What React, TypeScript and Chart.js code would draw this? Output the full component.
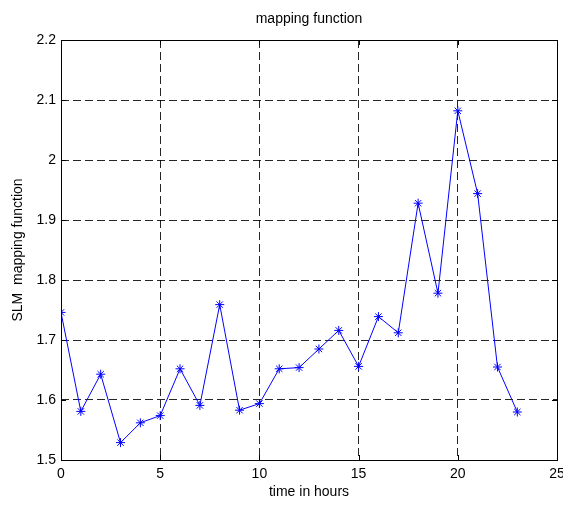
import React, { useEffect, useRef } from "react";
import { Chart, registerables } from "chart.js";

Chart.register(...registerables);

const hours = [0, 1, 2, 3, 4, 5, 6, 7, 8, 9, 10, 11, 12, 13, 14, 15, 16, 17, 18, 19, 20, 21, 22, 23];
const slm = [1.746, 1.581, 1.643, 1.529, 1.562, 1.574, 1.652, 1.591, 1.759, 1.583, 1.594, 1.652, 1.654, 1.685, 1.716, 1.656, 1.739, 1.712, 1.928, 1.778, 2.082, 1.944, 1.655, 1.58];
const chartTitle = "mapping function";
const xTitle = "time in hours";
const yTitle = "SLM  mapping function";

const FONT = "'Liberation Sans', Arial, sans-serif";
const FS = 14;

const boxPlugin = {
  id: "boxPlugin",
  afterDraw(chart: any) {
    const { ctx, chartArea: a, scales } = chart;
    ctx.save();
    ctx.strokeStyle = "#000";
    ctx.lineWidth = 1;
    ctx.beginPath();
    scales.x.ticks.forEach((t: any) => {
      const px = Math.round(scales.x.getPixelForValue(t.value)) + 0.5;
      ctx.moveTo(px, a.bottom);
      ctx.lineTo(px, a.bottom - 5);
      ctx.moveTo(px, a.top);
      ctx.lineTo(px, a.top + 5);
    });
    scales.y.ticks.forEach((t: any) => {
      const py = Math.round(scales.y.getPixelForValue(t.value)) + 0.5;
      ctx.moveTo(a.left, py);
      ctx.lineTo(a.left + 5, py);
      ctx.moveTo(a.right, py);
      ctx.lineTo(a.right - 5, py);
    });
    ctx.stroke();
    ctx.strokeRect(Math.round(a.left) + 0.5, Math.round(a.top) + 0.5, Math.round(a.right - a.left), Math.round(a.bottom - a.top));
    ctx.fillStyle = "#000";
    ctx.font = `${FS}px ${FONT}`;
    ctx.textAlign = "center";
    ctx.textBaseline = "middle";
    ctx.fillText(chartTitle, (a.left + a.right) / 2, 19);
    ctx.restore();
  },
};

export default function App() {
  const ref = useRef<HTMLCanvasElement>(null);
  useEffect(() => {
    if (!ref.current) return;
    const chart = new Chart(ref.current, {
      type: "line",
      data: {
        datasets: [
          {
            data: hours.map((h, i) => ({ x: h, y: slm[i] })),
            borderColor: "#0000ff",
            backgroundColor: "#0000ff",
            borderWidth: 1,
            pointStyle: "star",
            pointRadius: 4.5,
            pointBorderWidth: 1,
            pointBorderColor: "#0000ff",
            tension: 0,
            fill: false,
          },
        ],
      },
      options: {
        animation: false,
        responsive: false,
        maintainAspectRatio: false,
        layout: { padding: { top: 40, right: 6, left: 0, bottom: 0 } },
        plugins: { legend: { display: false }, tooltip: { enabled: false }, title: { display: false } },
        scales: {
          x: {
            type: "linear",
            min: 0,
            max: 25,
            ticks: { stepSize: 5, color: "#000", font: { family: FONT, size: FS }, padding: 6, maxRotation: 0 },
            grid: { color: "rgba(0,0,0,0.85)", lineWidth: 1, drawTicks: false },
            border: { display: false, dash: [8, 4] },
            title: { display: true, text: xTitle, color: "#000", font: { family: FONT, size: FS }, padding: { top: 2, bottom: 4 } },
            afterFit: (s: any) => {
              s.height = 45;
              s.paddingLeft = 0;
              s.paddingRight = 0;
            },
          } as any,
          y: {
            type: "linear",
            min: 1.5,
            max: 2.2,
            ticks: {
              stepSize: 0.1,
              color: "#000",
              font: { family: FONT, size: FS },
              padding: 5,
              callback: (v: any) => String(+Number(v).toFixed(1)),
            },
            grid: { color: "rgba(0,0,0,0.85)", lineWidth: 1, drawTicks: false },
            border: { display: false, dash: [8, 4] },
            title: { display: true, text: yTitle, color: "#000", font: { family: FONT, size: FS }, padding: { top: 10, bottom: 4 } },
            afterFit: (s: any) => {
              s.width = 61;
              s.paddingTop = 0;
              s.paddingBottom = 0;
            },
          } as any,
        },
      },
      plugins: [boxPlugin],
    });
    return () => chart.destroy();
  }, []);
  return (
    <div style={{ position: "fixed", left: 0, top: 0, width: 563, height: 505, background: "#fff" }}>
      <canvas ref={ref} width={563} height={505} style={{ width: 563, height: 505 }} />
    </div>
  );
}
